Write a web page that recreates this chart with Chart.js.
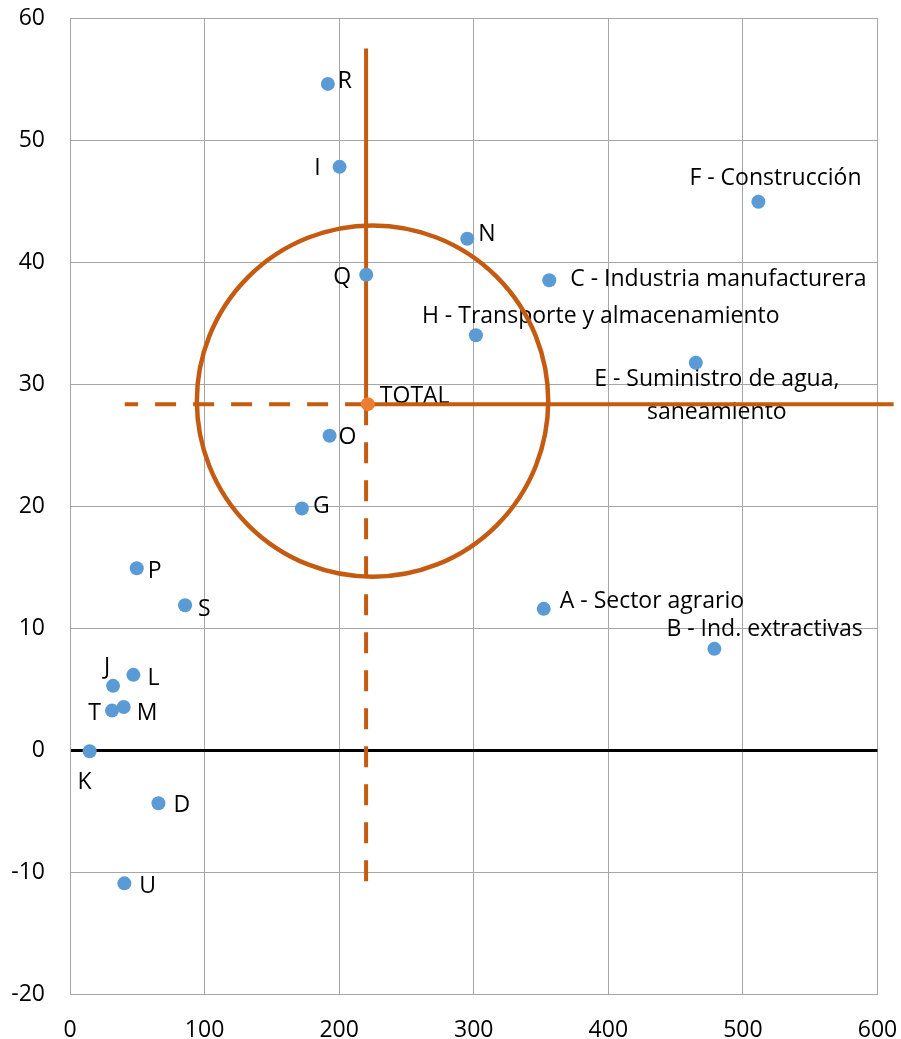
<!DOCTYPE html>
<html>
<head>
<meta charset="utf-8">
<script src="https://cdn.jsdelivr.net/npm/chart.js@4.4.1/dist/chart.umd.min.js"></script>
<style>
  html, body { margin: 0; padding: 0; background: #fff; }
  .chart-container { position: relative; width: 901px; height: 1039px; }
</style>
</head>
<body>
<div class="chart-container"><canvas id="myChart"></canvas></div>
<script>
// sectores de actividad (eje x / eje y)
var sectorLabels = ['A - Sector agrario', 'B - Ind. extractivas', 'C - Industria manufacturera', 'D',
    ['E - Suministro de agua,', 'saneamiento'], 'F - Construcción', 'G', 'H - Transporte y almacenamiento',
    'I', 'J', 'K', 'L', 'M', 'N', 'O', 'P', 'Q', 'R', 'S', 'T', 'U'];
var sectorX = [352, 478.8, 356.1, 65.7, 465, 511.5, 172.3, 301.6, 200.3, 32, 14.6, 47.1, 39.9, 295.2, 192.9, 49.6, 220.1, 191.6, 85.5, 31.2, 40.4];
var sectorY = [11.57, 8.29, 38.5, -4.37, 31.74, 44.94, 19.8, 34.0, 47.8, 5.26, -0.1, 6.16, 3.53, 41.9, 25.76, 14.9, 38.96, 54.6, 11.87, 3.23, -10.93];

// total
var totalLabel = 'TOTAL';
var totalX = 221.3;
var totalY = 28.35;

// lineas de referencia y circulo
var refX = 220;
var refTopY = 57.5;
var refBottomY = -11.4;
var refLeftX = 40.7;
var refRightX = 612;
var circleX = 224.8;
var circleY = 28.6;
var circleRadiusY = 14.4; // radio en unidades del eje y

// ticks
var xTicks = [0, 100, 200, 300, 400, 500, 600];
var yTicks = [-20, -10, 0, 10, 20, 30, 40, 50, 60];

// posicion de las etiquetas: [dx, dy, align] en pixeles respecto al punto
var labelOffsets = [
    [16, -9, 'left'], [-48, -21, 'left'], [21, -3, 'left'], [15, 0, 'left'],
    [21, 31.5, 'center'], [-69, -25, 'left'], [11, -4, 'left'], [-54, -21, 'left'],
    [-19, 0, 'right'], [-6, -20, 'center'], [-5, 29, 'center'], [14, 2, 'left'],
    [13, 5, 'left'], [11, -6, 'left'], [9, 0, 'left'], [11, 1, 'left'],
    [-15, 1, 'right'], [10, -4, 'left'], [13, 2, 'left'], [-11, 1, 'right'], [15, 1, 'left']
];
var totalOffset = [12, -10, 'left'];

var blue = '#5B9BD5';
var orange = '#ED7D31';
var brown = '#C55A11';
var gridColor = '#A6A6A6';

Chart.defaults.font.family = '"Open Sans", sans-serif';
Chart.defaults.font.size = 23;
Chart.defaults.color = '#000';

function drawLabel(ctx, text, x, y, off) {
    ctx.textAlign = off[2];
    var lines = Array.isArray(text) ? text : [text];
    var gap = 33;
    lines.forEach(function(line, j) {
        // +2: el "middle" de Open Sans queda un poco alto
        ctx.fillText(line, x + off[0], y + off[1] + 2 + (j - (lines.length - 1) / 2) * gap);
    });
}

var labelPlugin = {
    id: 'pointLabels',
    beforeDatasetsDraw: function(chart) {
        var ctx = chart.ctx;
        ctx.save();
        ctx.font = '23px "Open Sans", sans-serif';
        ctx.fillStyle = '#000';
        ctx.textBaseline = 'middle';
        chart.getDatasetMeta(0).data.forEach(function(pt, i) {
            drawLabel(ctx, sectorLabels[i], pt.x, pt.y, labelOffsets[i]);
        });
        var tp = chart.getDatasetMeta(1).data[0];
        drawLabel(ctx, totalLabel, tp.x, tp.y, totalOffset);
        ctx.restore();
    }
};

var ctx = document.getElementById('myChart');
var myChart = new Chart(ctx, {
    type: 'scatter',
    data: {
        datasets: [{
            label: 'Sectores',
            data: sectorX.map(function(x, i) { return { x: x, y: sectorY[i] }; }),
            backgroundColor: blue,
            borderWidth: 0,
            pointRadius: 7,
            order: 0
        }, {
            label: totalLabel,
            data: [{ x: totalX, y: totalY }],
            backgroundColor: orange,
            borderWidth: 0,
            pointRadius: 7,
            order: 0
        }, {
            data: [{ x: refX, y: totalY }, { x: refX, y: refTopY }],
            showLine: true,
            borderColor: brown,
            borderWidth: 4,
            pointRadius: 0,
            order: 1
        }, {
            data: [{ x: refX, y: totalY }, { x: refX, y: refBottomY }],
            showLine: true,
            borderColor: brown,
            borderWidth: 4,
            borderDash: [21, 17],
            pointRadius: 0,
            order: 1
        }, {
            data: [{ x: refX, y: totalY }, { x: refLeftX, y: totalY }],
            showLine: true,
            borderColor: brown,
            borderWidth: 4,
            borderDash: [21, 17],
            pointRadius: 0,
            order: 1
        }, {
            data: [{ x: refX, y: totalY }, { x: refRightX, y: totalY }],
            showLine: true,
            borderColor: brown,
            borderWidth: 4,
            pointRadius: 0,
            clip: false,
            order: 1
        }, {
            // circulo alrededor del total
            data: [{ x: circleX, y: circleY }],
            backgroundColor: 'rgba(0,0,0,0)',
            borderColor: brown,
            borderWidth: 4.5,
            pointRadius: function(c) {
                var y = c.chart.scales.y;
                return Math.abs(y.getPixelForValue(circleY + circleRadiusY) - y.getPixelForValue(circleY));
            },
            order: 2
        }]
    },
    options: {
        responsive: true,
        maintainAspectRatio: false,
        animation: false,
        events: [],
        layout: { autoPadding: false, padding: { top: 18, right: 23.5, left: 0, bottom: 0 } },
        plugins: {
            legend: { display: false },
            tooltip: { enabled: false }
        },
        scales: {
            x: {
                type: 'linear',
                min: xTicks[0],
                max: xTicks[xTicks.length - 1],
                afterBuildTicks: function(s) { s.ticks = xTicks.map(function(v) { return { value: v }; }); },
                afterFit: function(s) { s.height = 45; s.paddingLeft = 0; s.paddingRight = 0; },
                ticks: { padding: 23 },
                grid: { color: gridColor, lineWidth: 1, drawTicks: false },
                border: { color: gridColor }
            },
            y: {
                min: yTicks[0],
                max: yTicks[yTicks.length - 1],
                afterBuildTicks: function(s) { s.ticks = yTicks.map(function(v) { return { value: v }; }); },
                afterFit: function(s) { s.width = 70; s.paddingTop = 0; s.paddingBottom = 0; },
                ticks: { padding: 25 },
                grid: {
                    color: function(c) { return c.tick && c.tick.value === 0 ? '#000' : gridColor; },
                    lineWidth: function(c) { return c.tick && c.tick.value === 0 ? 3 : 1; },
                    drawTicks: false
                },
                border: { color: gridColor }
            }
        }
    },
    plugins: [labelPlugin]
});
</script>
</body>
</html>
